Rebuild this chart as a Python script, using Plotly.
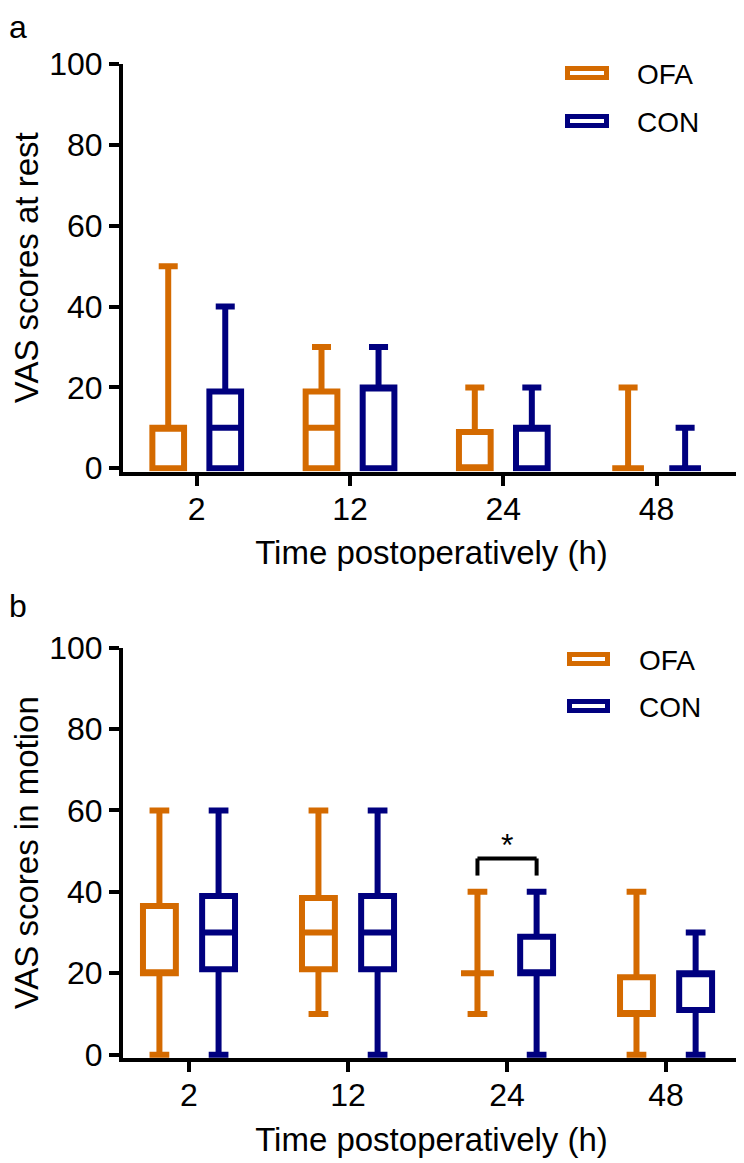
import plotly.graph_objects as go

# ---------------- data ----------------
times = ["2", "12", "24", "48"]
groups = ["OFA", "CON"]
colors = {"OFA": "#D46A00", "CON": "#00007F"}

# Panel a: VAS at rest
rest_min = {"OFA": [0, 0, 0, 0], "CON": [0, 0, 0, 0]}
rest_q1 = {"OFA": [0, 0, 0, 0], "CON": [0, 0, 0, 0]}
rest_med = {"OFA": [10, 10, 0, 0], "CON": [10, 20, 10, 0]}
rest_q3 = {"OFA": [10, 19, 9, 0], "CON": [19, 20, 10, 0]}
rest_max = {"OFA": [50, 30, 20, 20], "CON": [40, 30, 20, 10]}

# Panel b: VAS in motion
mot_min = {"OFA": [0, 10, 10, 0], "CON": [0, 0, 0, 0]}
mot_q1 = {"OFA": [20, 21, 20, 10], "CON": [21, 21, 20, 11]}
mot_med = {"OFA": [20, 30, 20, 10], "CON": [30, 30, 20, 20]}
mot_q3 = {"OFA": [36.5, 38.5, 20, 19], "CON": [39, 39, 29, 20]}
mot_max = {"OFA": [60, 60, 40, 40], "CON": [60, 60, 40, 30]}

yticks = [0, 20, 40, 60, 80, 100]
sig_pair = {"time": "24", "label": "*", "y_base": 44, "y_top": 48.2}

# ---------------- layout helpers ----------------
# page is rendered with an 8px body margin, so work in page pixels and shift
OFF = 8
W, H = 744 - OFF, 1163 - OFF
FONT = "Liberation Sans, Arial, sans-serif"
BOXGAP = 0.256
BOXGROUPGAP = 0.444
LW = 6


def px(x):
    return (x - OFF) / W


def py(y):
    return 1 - (y - OFF) / H


fig = go.Figure()

panels = [
    ("a", "x", "y", rest_min, rest_q1, rest_med, rest_q3, rest_max),
    ("b", "x2", "y2", mot_min, mot_q1, mot_med, mot_q3, mot_max),
]
for pid, xa, ya, mn, q1, md, q3, mx in panels:
    for g in groups:
        fig.add_trace(go.Box(
            name=g, x=times, q1=q1[g], median=md[g], q3=q3[g],
            lowerfence=mn[g], upperfence=mx[g],
            boxpoints=False, fillcolor="white",
            line=dict(color=colors[g], width=LW),
            whiskerwidth=0.6, showlegend=False,
            offsetgroup=g, alignmentgroup=pid,
            xaxis=xa, yaxis=ya, hoverinfo="skip",
        ))

axis_common = dict(showline=True, linecolor="black", linewidth=4,
                   ticks="outside", ticklen=10, tickwidth=4, tickcolor="black",
                   showgrid=False, zeroline=False, automargin=False,
                   tickfont=dict(family=FONT, size=32, color="black"))
xt = dict(text="Time postoperatively (h)", font=dict(size=33, family=FONT), standoff=16)

xdom = [px(123), px(740)]
fig.update_layout(
    width=W, height=H, margin=dict(l=0, r=0, t=0, b=0, pad=0, autoexpand=False),
    paper_bgcolor="white", plot_bgcolor="white",
    boxmode="group", boxgap=BOXGAP, boxgroupgap=BOXGROUPGAP,
    font=dict(family=FONT, color="black"),
    xaxis=dict(domain=xdom, type="category", range=[-0.481, 3.544], anchor="y",
               title=xt, ticklabelstandoff=-4, **axis_common),
    yaxis=dict(domain=[py(471.5), py(64)], range=[-0.8, 100], tickvals=yticks, anchor="x",
               title=dict(text="VAS scores at rest", font=dict(size=33, family=FONT)),
               **axis_common),
    xaxis2=dict(domain=xdom, type="category", range=[-0.415, 3.465], anchor="y2",
                title=xt, ticklabelstandoff=-4, **axis_common),
    yaxis2=dict(domain=[py(1058), py(647.5)], range=[-0.8, 100], tickvals=yticks, anchor="x2",
                title=dict(text="VAS scores in motion", font=dict(size=33, family=FONT)),
                **axis_common),
)

# panel letters
fig.add_annotation(text="a", xref="paper", yref="paper", x=0, y=1,
                   xanchor="left", yanchor="top", showarrow=False, borderpad=0,
                   font=dict(family=FONT, size=32, color="black"))
fig.add_annotation(text="b", xref="paper", yref="paper", x=0, y=py(605.5),
                   xanchor="left", yanchor="middle", showarrow=False, borderpad=0,
                   font=dict(family=FONT, size=32, color="black"))

# manual legends (wide rectangle symbols)
legend_rows = [(73, 121, 567.5, 606.5, 635), (659, 706, 569.5, 607.5, 637)]
for oc, cc, x0, x1, tx in legend_rows:
    for g, yc in zip(groups, [oc, cc]):
        fig.add_shape(type="rect", xref="paper", yref="paper",
                      x0=px(x0), x1=px(x1), y0=py(yc + 4.5), y1=py(yc - 4.5),
                      line=dict(color=colors[g], width=5), fillcolor="white")
        fig.add_annotation(text=g, xref="paper", yref="paper", x=px(tx), y=py(yc + 1),
                           xanchor="left", yanchor="middle", showarrow=False,
                           font=dict(family=FONT, size=28, color="black"))

# significance bracket between OFA and CON at 24 h (panel b)
ci = times.index(sig_pair["time"])
off = (1 - BOXGAP) / 4
xl, xr = ci - off, ci + off
for (x0, y0, x1, y1) in [(xl, sig_pair["y_base"], xl, sig_pair["y_top"]),
                         (xl, sig_pair["y_top"], xr, sig_pair["y_top"]),
                         (xr, sig_pair["y_top"], xr, sig_pair["y_base"])]:
    fig.add_shape(type="line", xref="x2", yref="y2", x0=x0, y0=y0, x1=x1, y1=y1,
                  line=dict(color="black", width=4))
fig.add_annotation(text=sig_pair["label"], xref="x2", yref="y2", x=ci, y=sig_pair["y_top"] - 1.5,
                   xanchor="center", yanchor="bottom", showarrow=False,
                   font=dict(family=FONT, size=32, color="black"))

fig.write_html("out.html")
